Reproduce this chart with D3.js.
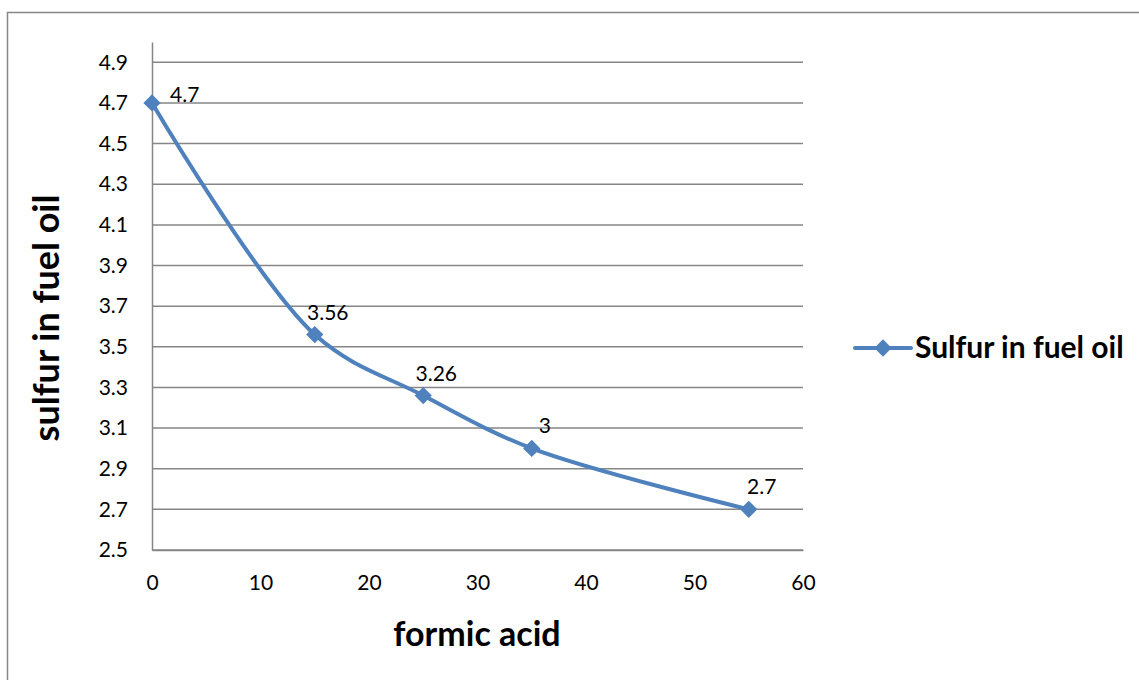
<!DOCTYPE html>
<html>
<head>
<meta charset="utf-8">
<script src="https://cdn.jsdelivr.net/npm/d3@7"></script>
<style>
  body { margin: 0; background: #fff; }
  svg { display: block; font-family: Lato, "Open Sans", sans-serif; }
</style>
</head>
<body>
<div id="chart"></div>
<script>
const width = 1139;
const height = 680;

// data
const formicAcid = [0, 15, 25, 35, 55];
const sulfur = [4.7, 3.56, 3.26, 3, 2.7];
const seriesName = "Sulfur in fuel oil";
const xTicks = [0, 10, 20, 30, 40, 50, 60];
const yTicks = [2.5, 2.7, 2.9, 3.1, 3.3, 3.5, 3.7, 3.9, 4.1, 4.3, 4.5, 4.7, 4.9];

const points = formicAcid.map((x, i) => ({ x, y: sulfur[i] }));

const blue = "#4f81bd";
const grid = "#868686";

const svg = d3.select("#chart")
  .append("svg")
  .attr("width", width)
  .attr("height", height);

// outer chart border
svg.append("rect")
  .attr("x", 7.5)
  .attr("y", 12.5)
  .attr("width", width + 20)
  .attr("height", height + 20)
  .attr("fill", "none")
  .attr("stroke", grid)
  .attr("stroke-width", 1.5);

const x = d3.scaleLinear().domain([0, 60]).range([152, 803]);
const y = d3.scaleLinear().domain([2.5, 5.0]).range([550, 42]);

// gridlines
svg.append("g")
  .selectAll("line")
  .data(yTicks)
  .join("line")
  .attr("x1", x(0))
  .attr("x2", x(60))
  .attr("y1", d => y(d))
  .attr("y2", d => y(d))
  .attr("stroke", grid)
  .attr("stroke-width", 1.5);

// y axis
const yAxis = svg.append("g")
  .attr("transform", `translate(${x(0)},0)`)
  .call(d3.axisLeft(y).tickValues(yTicks).tickSize(0).tickPadding(24).tickFormat(d3.format(".1f")));
yAxis.select(".domain").attr("stroke", grid).attr("stroke-width", 1.5);
yAxis.selectAll("text").attr("font-size", 21).attr("fill", "#000").attr("font-family", "Lato, sans-serif");

// x axis
const xAxis = svg.append("g")
  .attr("transform", `translate(0,${y(2.5)})`)
  .call(d3.axisBottom(x).tickValues(xTicks).tickSize(0).tickPadding(25));
xAxis.select(".domain").attr("stroke", grid).attr("stroke-width", 1.5);
xAxis.selectAll("text").attr("font-size", 21).attr("fill", "#000").attr("font-family", "Lato, sans-serif");

// series line
const line = d3.line()
  .x(d => x(d.x))
  .y(d => y(d.y))
  .curve(d3.curveCatmullRom.alpha(0.5));

svg.append("path")
  .datum(points)
  .attr("d", line)
  .attr("fill", "none")
  .attr("stroke", blue)
  .attr("stroke-width", 4)
  .attr("stroke-linejoin", "round");

const diamond = d3.symbol().type(d3.symbolDiamond2).size(190);

svg.append("g")
  .selectAll("path")
  .data(points)
  .join("path")
  .attr("d", diamond)
  .attr("transform", d => `translate(${x(d.x)},${y(d.y)})`)
  .attr("fill", blue);

// data labels
svg.append("g")
  .selectAll("text")
  .data(points)
  .join("text")
  .attr("x", (d, i) => i === 0 ? x(d.x) + 18 : x(d.x) + 13)
  .attr("y", (d, i) => i === 0 ? y(d.y) - 1 : y(d.y) - 15)
  .attr("text-anchor", (d, i) => i === 0 ? "start" : "middle")
  .attr("font-size", 21)
  .text(d => d.y);

// axis titles
svg.append("text")
  .attr("x", 477)
  .attr("y", 646)
  .attr("text-anchor", "middle")
  .attr("font-size", 34)
  .attr("font-weight", "bold")
  .text("formic acid");

svg.append("text")
  .attr("transform", "translate(59,318) rotate(-90)")
  .attr("text-anchor", "middle")
  .attr("font-size", 36)
  .attr("font-weight", "bold")
  .text("sulfur in fuel oil");

// legend
const legend = svg.append("g").attr("transform", "translate(855,348)");
legend.append("line")
  .attr("x1", 0).attr("x2", 56)
  .attr("stroke", blue)
  .attr("stroke-width", 4)
  .attr("stroke-linecap", "round");
legend.append("path")
  .attr("d", diamond)
  .attr("transform", "translate(28,0)")
  .attr("fill", blue);
legend.append("text")
  .attr("x", 60)
  .attr("y", 10)
  .attr("font-size", 30)
  .attr("font-weight", "bold")
  .text(seriesName);
</script>
</body>
</html>
